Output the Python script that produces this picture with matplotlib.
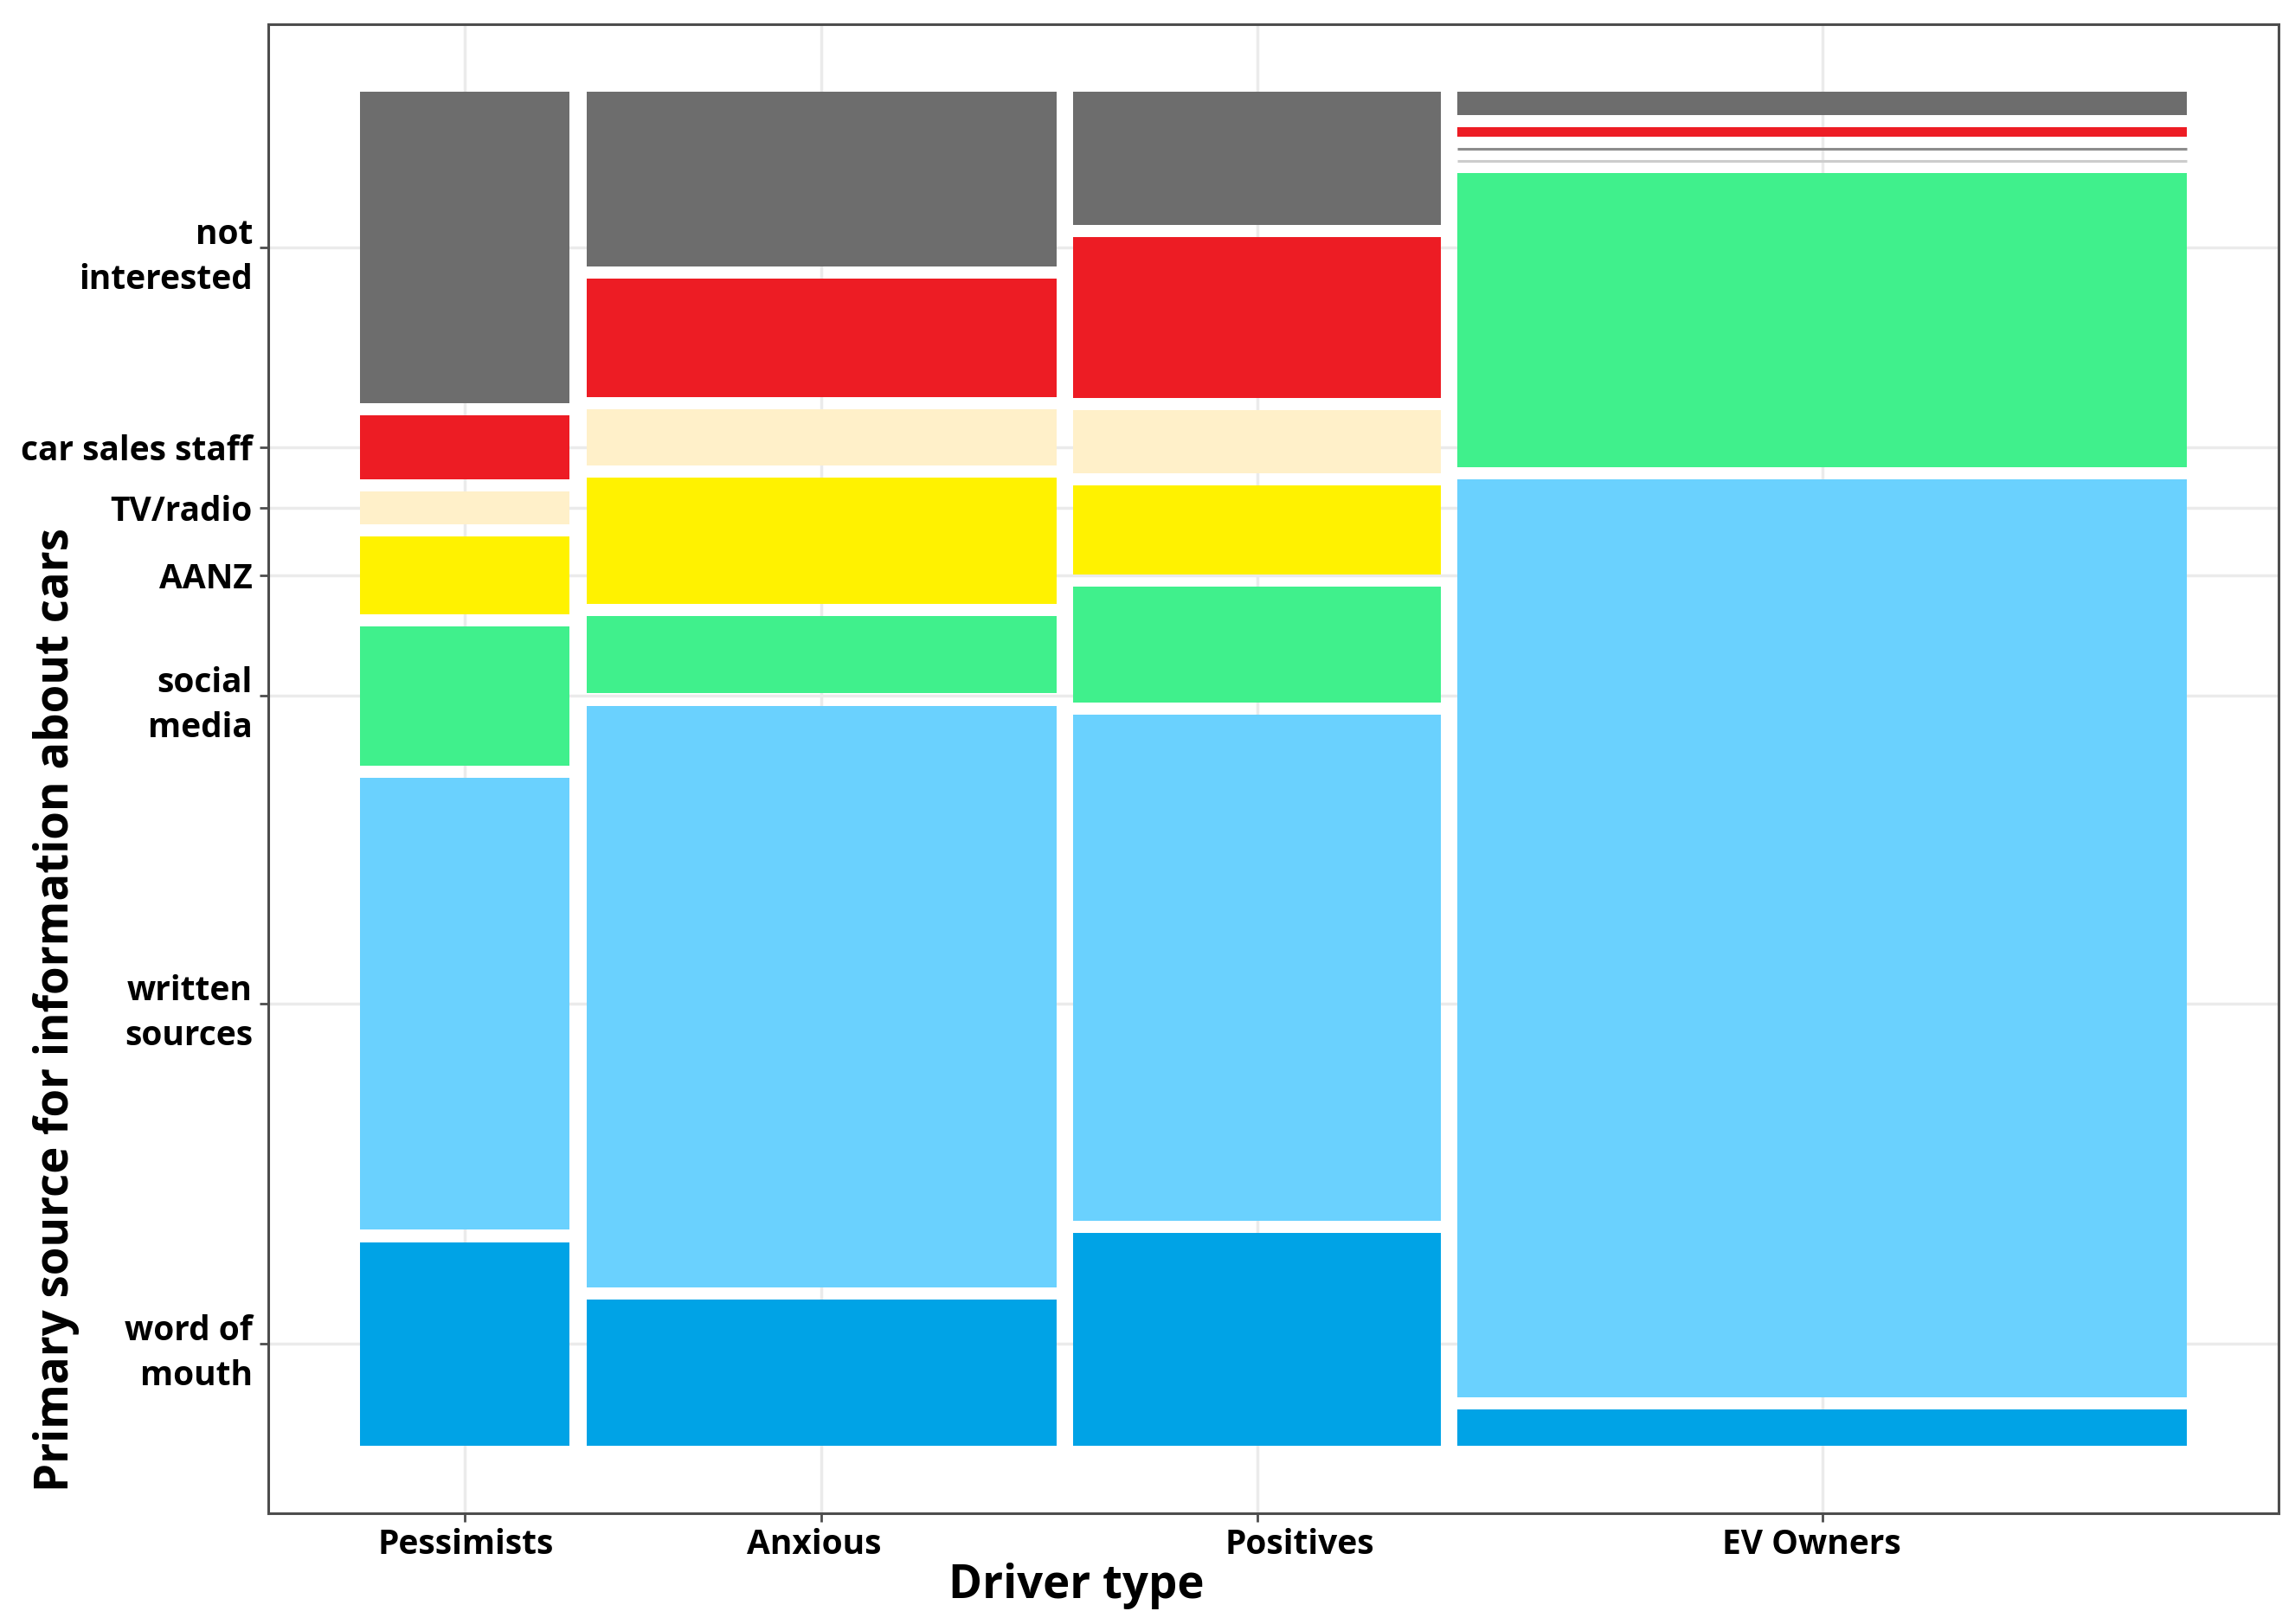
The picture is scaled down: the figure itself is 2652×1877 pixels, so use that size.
import numpy as np
import matplotlib.pyplot as plt

# driver groups (x) and their share of respondents (column widths)
drivers = ['Pessimists', 'Anxious', 'Positives', 'EV Owners']
driver_share = [0.1182, 0.2647, 0.2068, 0.4102]

# information sources, bottom to top
sources = ['word of mouth', 'written sources', 'social media', 'AANZ',
           'TV/radio', 'car sales staff', 'not interested']
source_labels = ['word of\nmouth', 'written\nsources', 'social\nmedia', 'AANZ',
                 'TV/radio', 'car sales staff', 'not\ninterested']
source_colors = ['#00a3e6', '#6ad1fe', '#40f08c', '#fff200',
                 '#fff0c9', '#ed1c24', '#6d6d6d']

# share of each source within a driver group (bottom to top)
pessimists = [0.1589, 0.3529, 0.1089, 0.0609, 0.0257, 0.0494, 0.2434]
anxious    = [0.1138, 0.4545, 0.0606, 0.0983, 0.0438, 0.0929, 0.1360]
positives  = [0.1659, 0.3951, 0.0904, 0.0701, 0.0492, 0.1254, 0.1038]
ev_owners  = [0.0283, 0.7166, 0.2294, 0.0, 0.0, 0.0074, 0.0182]
shares = [pessimists, anxious, positives, ev_owners]

gx = 0.0093   # gap between columns
gy = 0.0095   # gap between tiles

fig = plt.figure(figsize=(26.52, 18.77), dpi=100)
ax = fig.add_axes([0.1169, 0.0682, 0.8759, 0.9169])

X = 1 + gx * (len(drivers) - 1)
Y = 1 + gy * (len(sources) - 1)

xcenters = []
left = 0.0
for i, d in enumerate(drivers):
    w = driver_share[i]
    bottom = 0.0
    for j, s in enumerate(sources):
        h = shares[i][j]
        if h > 0:
            ax.bar(left, h, width=w, bottom=bottom, align='edge',
                   color=source_colors[j], linewidth=0, zorder=3)
        else:
            # empty tile shows up as a thin line
            c = '#cccccc' if s == 'AANZ' else '#8c8c8c'
            ax.hlines(bottom, left, left + w, colors=c,
                      linewidth=2.2, zorder=3)
        bottom += h + gy
    xcenters.append(left + w / 2)
    left += w + gx

# y ticks sit at the middle of the first column's tiles
p = np.array(shares[0])
ybottoms = np.concatenate([[0], np.cumsum(p + gy)[:-1]])
yticks = ybottoms + p / 2

ax.set_xlim(-0.05 * X, 1.05 * X)
ax.set_ylim(-0.05 * Y, 1.05 * Y)
ax.set_xticks(xcenters)
ax.set_xticklabels([])
ax.set_yticks(yticks)
ax.set_yticklabels(source_labels, fontsize=28, fontweight='bold',
                   family='Open Sans', linespacing=1.45, ha='right')

# x labels were nudged a little off their ticks in the original
label_shift = [1, -6, 35, -9]
for xc, name, dx in zip(xcenters, drivers, label_shift):
    ax.annotate(name, xy=(xc, 0), xycoords=ax.get_xaxis_transform(),
                xytext=(dx, -12), textcoords='offset points',
                ha='center', va='top', fontsize=28, fontweight='bold',
                family='Open Sans')

ax.grid(True, color='#ebebeb', linewidth=2.5, zorder=0)
ax.set_axisbelow(True)
for sp in ax.spines.values():
    sp.set_color('#4d4d4d')
    sp.set_linewidth(2.2)
ax.tick_params(axis='both', length=7, width=2, color='#4d4d4d', pad=6)

ax.set_xlabel('Driver type', fontsize=38, fontweight='bold',
              family='Open Sans')
ax.xaxis.set_label_coords(0.402, -0.033)
ax.set_ylabel('Primary source for information about cars', fontsize=38,
              fontweight='bold', family='Open Sans')
ax.yaxis.set_label_coords(-0.094, 0.338)

fig.savefig('out.png', dpi=100)
